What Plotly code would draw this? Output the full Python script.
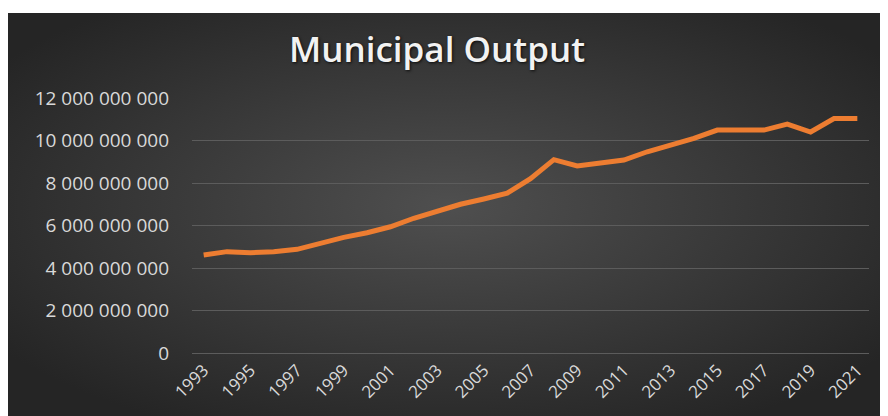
import base64
import plotly.graph_objects as go

years = list(range(1993, 2022))
output = [4.61e9, 4.77e9, 4.72e9, 4.77e9, 4.88e9, 5.19e9, 5.44e9, 5.66e9, 5.94e9, 6.34e9,
          6.68e9, 7.00e9, 7.25e9, 7.52e9, 8.20e9, 9.10e9, 8.80e9, 8.93e9, 9.08e9, 9.47e9,
          9.79e9, 10.10e9, 10.49e9, 10.49e9, 10.49e9, 10.77e9, 10.40e9, 11.03e9, 11.03e9]
tick_years = list(range(1993, 2022, 2))
y_ticks = [0, 2e9, 4e9, 6e9, 8e9, 10e9, 12e9]

W, H = 880, 408          # page body has an 8px margin
L, R, T, B = 184, 861, 90, 345
pw, ph = R - L, B - T
TOP_BAND = 5             # white strip above the dark chart area

svg = ('<svg xmlns="http://www.w3.org/2000/svg" width="880" height="403" viewBox="0 0 880 403" preserveAspectRatio="none">'
       '<defs><radialGradient id="g" cx="50%" cy="48%" r="62%">'
       '<stop offset="0%" stop-color="#4f4f4f"/><stop offset="100%" stop-color="#252525"/>'
       '</radialGradient></defs><rect width="880" height="403" fill="url(#g)"/></svg>')
src = "data:image/svg+xml;base64," + base64.b64encode(svg.encode()).decode()

fig = go.Figure()
fig.add_trace(go.Scatter(
    x=years, y=output, mode="lines",
    line=dict(color="#ED7D31", width=5, shape="linear"),
    hoverinfo="x+y", showlegend=False,
))

fig.update_layout(
    width=W, height=H,
    margin=dict(l=L, r=W - R, t=T, b=H - B, autoexpand=False),
    paper_bgcolor="white", plot_bgcolor="rgba(0,0,0,0)",
    separators=". ",
    font=dict(family="Open Sans, sans-serif", color="#d9d9d9", size=17),
    title=dict(text="Municipal Output", x=(437 - 8) / W, xref="container", xanchor="center",
               y=1 - 42 / H, yref="container", yanchor="middle",
               font=dict(family="Open Sans, sans-serif", size=35, weight=600, color="#f2f2f2",
                         shadow="1px 1px 3px rgba(0,0,0,0.8)")),
    images=[dict(source=src, xref="paper", yref="paper",
                 x=(0 - L) / pw, y=(B - TOP_BAND) / ph, sizex=W / pw, sizey=(H - TOP_BAND) / ph,
                 xanchor="left", yanchor="top", sizing="stretch", layer="below")],
    xaxis=dict(range=[1992.5, 2021.5], tickmode="array", tickvals=tick_years,
               ticktext=[str(y) for y in tick_years], tickangle=-45, showgrid=False,
               zeroline=False, showline=False, ticks="", ticklabelstandoff=3,
               tickfont=dict(size=17, color="#d9d9d9")),
    yaxis=dict(range=[0, 12e9], tickmode="array", tickvals=y_ticks, tickformat=",d",
               showgrid=True, gridcolor="#5c5c5c", gridwidth=1, zeroline=True,
               zerolinecolor="#5c5c5c", zerolinewidth=1, showline=False, ticks="",
               ticklabelstandoff=22, tickfont=dict(size=19, color="#d9d9d9")),
)

fig.write_html("out.html")
